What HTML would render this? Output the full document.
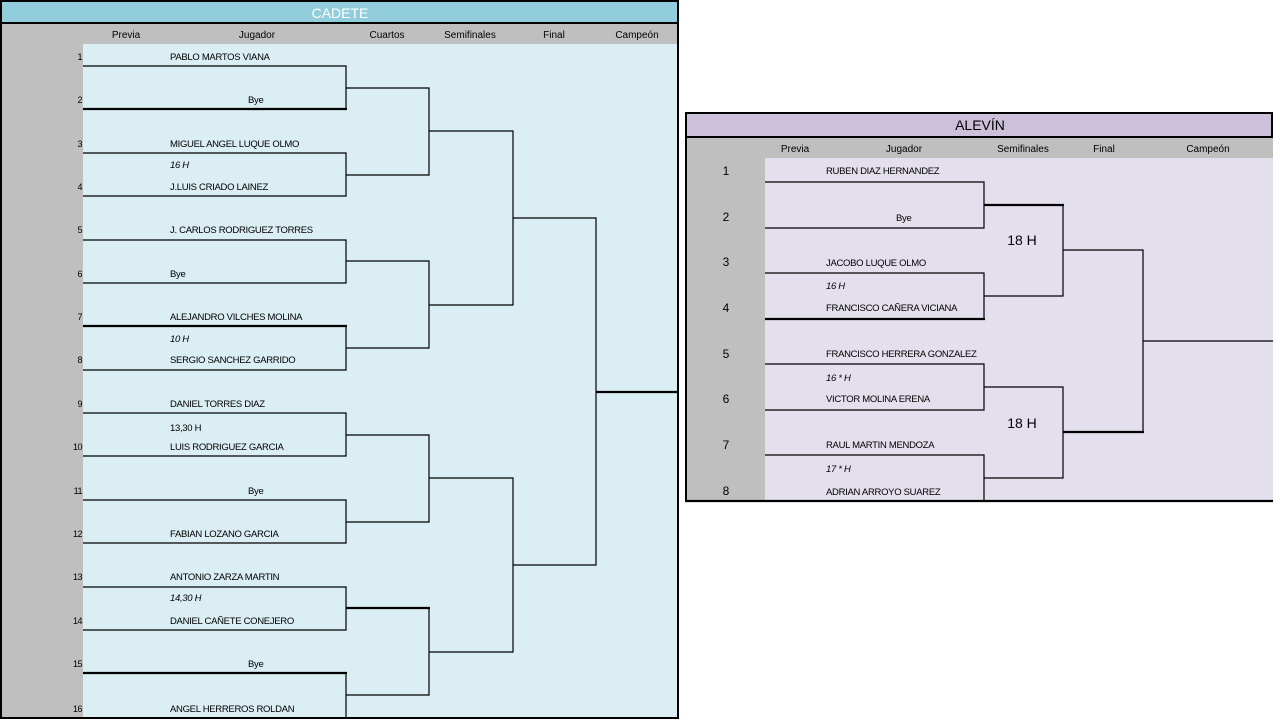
<!DOCTYPE html>
<html><head><meta charset="utf-8"><style>
html,body{margin:0;padding:0;background:#fff;width:1280px;height:720px;overflow:hidden}
svg{display:block}
text{font-family:"Liberation Sans Narrow","Liberation Sans",sans-serif;fill:#000}
.n{font-size:9.5px;letter-spacing:-0.3px}
.h{font-size:10px;text-anchor:middle}
.i{font-style:italic}
</style></head><body>
<svg width="1280" height="720" viewBox="0 0 1280 720">
<!-- CADETE -->
<rect x="0" y="0" width="679" height="719" fill="#DAEEF3"/>
<rect x="0" y="2" width="678" height="20" fill="#92CDDC"/>
<rect x="0" y="24" width="678" height="20" fill="#BFBFBF"/>
<rect x="0" y="44" width="83" height="674" fill="#BFBFBF"/>
<line x1="0" y1="23" x2="678" y2="23" stroke="#000" stroke-width="2"/>
<rect x="1" y="1" width="677" height="717" fill="none" stroke="#000" stroke-width="2"/>
<text x="340" y="18" font-size="14" text-anchor="middle" style="fill:#fff;font-family:'Liberation Sans Narrow','Liberation Sans',sans-serif">CADETE</text>
<g class="h">
<text class="h" x="126" y="38">Previa</text><text class="h" x="257" y="38">Jugador</text><text class="h" x="387" y="38">Cuartos</text><text class="h" x="470" y="38">Semifinales</text><text class="h" x="554" y="38">Final</text><text class="h" x="637" y="38">Campeón</text>
</g>
<g font-size="9" text-anchor="end" letter-spacing="-0.5">
<text x="82" y="60" font-size="9">1</text><text x="82" y="103" font-size="9">2</text><text x="82" y="147" font-size="9">3</text><text x="82" y="190" font-size="9">4</text><text x="82" y="233" font-size="9">5</text><text x="82" y="277" font-size="9">6</text><text x="82" y="320" font-size="9">7</text><text x="82" y="363" font-size="9">8</text><text x="82" y="407" font-size="9">9</text><text x="82" y="450" font-size="9">10</text><text x="82" y="494" font-size="9">11</text><text x="82" y="537" font-size="9">12</text><text x="82" y="580" font-size="9">13</text><text x="82" y="624" font-size="9">14</text><text x="82" y="667" font-size="9">15</text><text x="82" y="712" font-size="9">16</text>
</g>
<g class="n">
<text class="n" x="170" y="60">PABLO MARTOS VIANA</text>
<text class="n" x="248" y="103">Bye</text>
<text class="n" x="170" y="147">MIGUEL ANGEL LUQUE OLMO</text>
<text class="n i" x="170" y="168">16 H</text>
<text class="n" x="170" y="190">J.LUIS CRIADO LAINEZ</text>
<text class="n" x="170" y="233">J. CARLOS RODRIGUEZ TORRES</text>
<text class="n" x="170" y="277">Bye</text>
<text class="n" x="170" y="320">ALEJANDRO VILCHES MOLINA</text>
<text class="n i" x="170" y="342">10 H</text>
<text class="n" x="170" y="363">SERGIO SANCHEZ GARRIDO</text>
<text class="n" x="170" y="407">DANIEL TORRES DIAZ</text>
<text class="n" x="170" y="431">13,30 H</text>
<text class="n" x="170" y="450">LUIS RODRIGUEZ GARCIA</text>
<text class="n" x="248" y="494">Bye</text>
<text class="n" x="170" y="537">FABIAN LOZANO GARCIA</text>
<text class="n" x="170" y="580">ANTONIO ZARZA MARTIN</text>
<text class="n i" x="170" y="601">14,30 H</text>
<text class="n" x="170" y="624">DANIEL CAÑETE CONEJERO</text>
<text class="n" x="248" y="667">Bye</text>
<text class="n" x="170" y="712">ANGEL HERREROS ROLDAN</text>
</g>
<g stroke="#000" stroke-width="1.2" fill="none">
<path d="M83 66H346V109M83 153H346V196H83M83 240H346V283H83M83 370H346V326M83 413H346V456H83M83 500H346V543H83M83 587H346V630H83M346 673V718"/>
<path d="M346 88H429V175H346M346 261H429V348H346M346 435H429V522H346M429 608V695H346"/>
<path d="M429 131H513V305H429M429 478H513V652H429"/>
<path d="M513 218H596V565H513"/>
</g>
<g stroke="#000" stroke-width="2.2">
<line x1="83" y1="109" x2="347" y2="109"/><line x1="83" y1="326" x2="347" y2="326"/><line x1="346" y1="608" x2="430" y2="608"/><line x1="83" y1="673" x2="347" y2="673"/><line x1="596" y1="392" x2="678" y2="392"/>
</g>

<!-- ALEVIN -->
<rect x="685" y="112" width="588" height="390" fill="#E4DFEC"/>
<rect x="686" y="113" width="587" height="23" fill="#CCC0DA"/>
<rect x="685" y="138" width="588" height="20" fill="#BFBFBF"/>
<rect x="685" y="158" width="80" height="343" fill="#BFBFBF"/>
<line x1="685" y1="137" x2="1273" y2="137" stroke="#000" stroke-width="2"/>
<path d="M686 501V113H1272V137" fill="none" stroke="#000" stroke-width="2"/>
<line x1="685" y1="501" x2="1273" y2="501" stroke="#000" stroke-width="2.2"/>
<text x="980" y="130" font-size="14" text-anchor="middle">ALEVÍN</text>
<text class="h" x="795" y="152">Previa</text><text class="h" x="904" y="152">Jugador</text><text class="h" x="1023" y="152">Semifinales</text><text class="h" x="1104" y="152">Final</text><text class="h" x="1208" y="152">Campeón</text>
<g font-size="12" text-anchor="middle">
<text x="726" y="175" font-size="12" text-anchor="middle">1</text><text x="726" y="221" font-size="12" text-anchor="middle">2</text><text x="726" y="266" font-size="12" text-anchor="middle">3</text><text x="726" y="312" font-size="12" text-anchor="middle">4</text><text x="726" y="358" font-size="12" text-anchor="middle">5</text><text x="726" y="403" font-size="12" text-anchor="middle">6</text><text x="726" y="449" font-size="12" text-anchor="middle">7</text><text x="726" y="495" font-size="12" text-anchor="middle">8</text>
</g>
<text class="n" x="826" y="174">RUBEN DIAZ HERNANDEZ</text>
<text class="n" x="896" y="221">Bye</text>
<text class="n" x="826" y="266">JACOBO LUQUE OLMO</text>
<text class="n i" x="826" y="289">16 H</text>
<text class="n" x="826" y="311">FRANCISCO CAÑERA VICIANA</text>
<text class="n" x="826" y="357">FRANCISCO HERRERA GONZALEZ</text>
<text class="n i" x="826" y="381">16 * H</text>
<text class="n" x="826" y="402">VICTOR MOLINA ERENA</text>
<text class="n" x="826" y="448">RAUL MARTIN MENDOZA</text>
<text class="n i" x="826" y="472">17 * H</text>
<text class="n" x="826" y="495">ADRIAN ARROYO SUAREZ</text>
<text x="1022" y="245" font-size="14" text-anchor="middle">18 H</text>
<text x="1022" y="428" font-size="14" text-anchor="middle">18 H</text>
<g stroke="#000" stroke-width="1.2" fill="none">
<path d="M765 182H984V228H765M765 273H984V319M765 364H984V410H765M765 455H984V501"/>
<path d="M1063 205V296H984M984 387H1063V478H984"/>
<path d="M1063 250H1143V432M1143 341H1273"/>
</g>
<g stroke="#000" stroke-width="2.2">
<line x1="984" y1="205" x2="1064" y2="205"/><line x1="765" y1="319" x2="985" y2="319"/><line x1="1063" y1="432" x2="1144" y2="432"/>
</g>
</svg>
</body></html>
